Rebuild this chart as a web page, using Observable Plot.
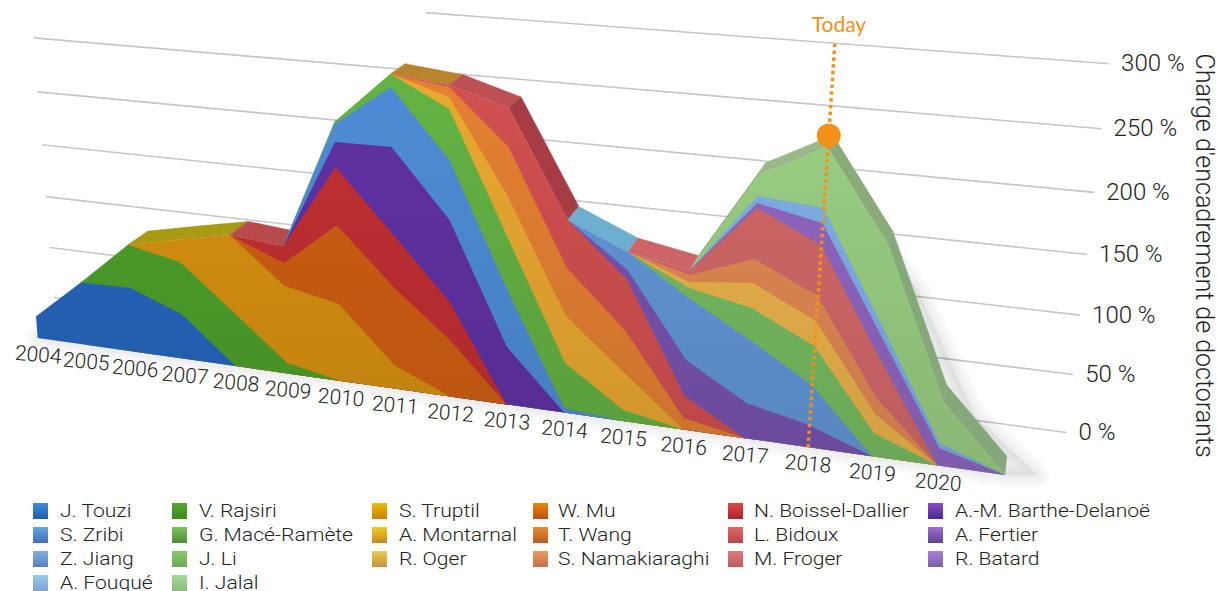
<!DOCTYPE html>
<html><head><meta charset="utf-8">
<script src="https://cdn.jsdelivr.net/npm/d3@7"></script>
<script src="https://cdn.jsdelivr.net/npm/@observablehq/plot@0.6"></script>
<style>
html,body{margin:0;padding:0;background:#fff;overflow:hidden}
#legend{position:relative;width:1217px;height:93px;font-family:Roboto,"Liberation Sans",sans-serif;font-weight:300;font-size:19px;color:#222}
#legend .s{position:absolute;width:15px;height:16px}
#legend .t{position:absolute;line-height:17px;white-space:nowrap;transform:scaleX(1.11);transform-origin:0 50%}
</style></head><body>
<div id="chart"></div><div id="legend"></div>
<script>
const years = [2004,2005,2006,2007,2008,2009,2010,2011,2012,2013,2014,2015,2016,2017,2018,2019,2020];
const names = ["J. Touzi","V. Rajsiri","S. Truptil","W. Mu","N. Boissel-Dallier","A.-M. Barthe-Delanoë","S. Zribi","G. Macé-Ramète","A. Montarnal","T. Wang","L. Bidoux","A. Fertier","Z. Jiang","J. Li","R. Oger","S. Namakiaraghi","M. Froger","R. Batard","A. Fouqué","I. Jalal"];
const colors = ["#2461B4","#4A9829","#CC8A10","#C45A12","#B82D30","#5B2F9B","#4A86CC","#60AA40","#DEA02E","#D97A30","#C84C4C","#7350A8","#5E90CE","#72B35C","#E0AC48","#D88350","#C96464","#8A62B8","#78A8DC","#93C67D"];
const swatchTop = ["#3F8FD8","#52A92C","#E8BC0C","#E8860F","#E04848","#8850C4","#62A8E0","#7CC65C","#E8CC28","#E88C38","#E46868","#A070D0","#80B0E0","#88C870","#E8CC50","#E89C60","#E47C7C","#A880D8","#98CCEC","#A8D898"];
const swatchBottom = ["#1F5AAE","#3F8A20","#C88008","#BC500C","#A82428","#4C2890","#3E70B8","#4E8C38","#C88820","#B85C28","#B84444","#5C4490","#5880BC","#6CA858","#C89040","#C47048","#B85C5C","#7860A8","#80A0D0","#88BC78"];

const jTouzi    = [16,46,46.6,32,0,0,0,0,0,0,0,0,0,0,0,0,0,0];
const vRajsiri  = [0,0,30.9,37.9,38.9,7.5,0,0,0,0,0,0,0,0,0,0,0,0];
const sTruptil  = [0,0,0,15.5,54.1,54.5,54.2,16.6,0,0,0,0,0,0,0,0,0,0];
const wMu       = [0,0,0,0,0,16,54,54,39.2,0,0,0,0,0,0,0,0,0];
const nBoissel  = [0,0,0,0,0,11.7,38.8,35.8,25.9,0,0,0,0,0,0,0,0,0];
const amBarthe  = [0,0,0,0,0,0,16.4,57.3,54.8,39.5,0,0,0,0,0,0,0,0];
const sZribi    = [0,0,0,0,0,0,11.8,38.5,39,38.4,3.1,0,0,0,0,0,0,0];
const gMace     = [0,0,0,0,0,0,1.3,8.2,32.5,34.4,30.8,7.5,0,0,0,0,0,0];
const aMontarnal= [0,0,0,0,0,0,0,0,7.6,26.6,31.5,24.9,0,0,0,0,0,0];
const tWang     = [0,0,0,0,0,0,0,0,6.3,31.9,31.7,28,7.7,0,0,0,0,0];
const lBidoux   = [0,0,0,0,0,0,0,0,1.2,24.5,31.1,33.4,14.8,0,0,0,0,0];
const aFertier  = [0,0,0,0,0,0,0,0,0,0,0,6.5,23.9,23.4,14.6,0,0,0];
const zJiang    = [0,0,0,0,0,0,0,0,0,0,0,11.5,40.4,41.2,26.2,0,0,0];
const jLi       = [0,0,0,0,0,0,0,0,0,0,0,0,6.5,20.6,25.1,15.2,0,0];
const rOger     = [0,0,0,0,0,0,0,0,0,0,0,0,3.8,15.9,15.9,12.3,0,0];
const sNamak    = [0,0,0,0,0,0,0,0,0,0,0,0,4.5,15.1,15.8,10.4,0,0];
const mFroger   = [0,0,0,0,0,0,0,0,0,0,0,0,3.2,31.7,31.7,25.5,0,0];
const rBatard   = [0,0,0,0,0,0,0,0,0,0,0,0,0,3.1,13.5,13.9,11.3,0];
const aFouque   = [0,0,0,0,0,0,0,0,0,0,0,0,0,4.3,9.1,6.3,3.3,0];
const iJalal    = [0,0,0,0,0,0,0,0,0,0,0,0,0,12.8,36.7,50,26.3,0];
const seriesValues = [jTouzi,vRajsiri,sTruptil,wMu,nBoissel,amBarthe,sZribi,gMace,aMontarnal,tWang,lBidoux,aFertier,zJiang,jLi,rOger,sNamak,mFroger,rBatard,aFouque,iJalal];
const faceColors = ["#2461B4","#4A9829","#A89A12","#A89A12","#B84A4C","#4F8FD0","#66B048","#B8842E","#BC5052","#A63D45","#6EAECF","#CC6468","#8FB27E","#9AB888","#8AAA7A","#85A87A","#85A87A"];
const gridPercents = [0,50,100,150,200,250,300];
const gridStart = [0,0,0,0,0,0,0.367];
const shadowWidths = [26,22,18,14,10,6,2];
const todayYear = 2018, todayTop = 250, todayDot = 195.7;

// Projection of the 3D camera
const c=-0.00966, h=0.00025, vpX=463, vpY=5650;
const w=(t,v)=>1+c*t-h*v;
const sx=(t,v)=>(37.7+47.19*t-vpX*h*v)/w(t,v);
const sy=(t,v)=>(338+3.47*t-vpY*h*v)/w(t,v);
const depthA=0.021, dX=1094, dY=-416;
const bx=(t,v)=>{const x=sx(t,v);return x+depthA*(dX-x)};
const by=(t,v)=>{const y=sy(t,v);return y+depthA*(dY-y)};
const wall=(x0,y0,hh)=>v=>[(x0-vpX*hh*v)/(1-hh*v),(y0-vpY*hh*v)/(1-hh*v)];
const wallL=wall(53,297,0.000185), wallR=wall(1066,432,0.00022);

// stack
const cum=seriesValues.map(()=>[]);
seriesValues.forEach((s,i)=>s.forEach((v,t)=>{cum[i][t]=v+(i?cum[i-1][t]:0)}));
const totals=cum[cum.length-1];

const fronts=[];
for(let i=names.length-1;i>=0;i--){
  const s=seriesValues[i];
  s.forEach((v,t)=>{ if(v>0||s[t-1]>0||s[t+1]>0) fronts.push({name:names[i],t,top:cum[i][t]}); });
}
const faces=[];
faceColors.forEach((col,i)=>{faces.push({seg:i,col,t:i,v:totals[i]},{seg:i,col,t:i+1,v:totals[i+1]})});
const floorPts=totals.map((v,t)=>({t,v:v*0.8}));
const grid=gridPercents.map((v,i)=>{const L=wallL(v),R=wallR(v);const u=gridStart[i];return {v,x1:L[0]+u*(R[0]-L[0]),y1:L[1]+u*(R[1]-L[1]),x2:R[0],y2:R[1]}});

const font='Roboto,"Liberation Sans",sans-serif';
const plot=Plot.plot({
  width:1217,height:498,margin:0,
  x:{domain:[0,1217],range:[0,1217],axis:null},
  y:{domain:[0,498],range:[0,498],axis:null},
  color:{type:"ordinal",domain:names,range:names.map((_,i)=>`url(#band${i})`)},
  style:{background:"transparent",fontFamily:font},
  marks:[
    Plot.link(grid,{x1:"x1",y1:"y1",x2:"x2",y2:"y2",stroke:"#c6c6c6",strokeWidth:1.6}),
    ...shadowWidths.map(sw=>Plot.area(floorPts,{x1:d=>sx(d.t,0),y1:d=>sy(d.t,0),x2:d=>sx(d.t,d.v)+32,y2:d=>sy(d.t,d.v),fill:"#000",fillOpacity:0.006,stroke:"#000",strokeOpacity:0.011,strokeWidth:sw,strokeLinejoin:"round"})),
    Plot.area(faces,{x1:d=>sx(d.t,d.v),y1:d=>sy(d.t,d.v),x2:d=>bx(d.t,d.v),y2:d=>by(d.t,d.v),z:"seg",fill:"col",stroke:"col",strokeWidth:0.4}),
    Plot.area(fronts,{x1:d=>sx(d.t,0),y1:d=>sy(d.t,0),x2:d=>sx(d.t,d.top),y2:d=>sy(d.t,d.top),z:"name",fill:"name"}),
    Plot.line([0,todayTop],{x:v=>sx(todayYear-years[0],v),y:v=>sy(todayYear-years[0],v),stroke:"#F39019",strokeWidth:3.5,strokeLinecap:"butt",strokeDasharray:"3.4,3.4"}),
    Plot.dot([todayDot],{x:v=>sx(todayYear-years[0],v),y:v=>sy(todayYear-years[0],v),r:12,fill:"#F39019"}),
    Plot.text(["Today"],{x:()=>sx(todayYear-years[0],todayTop)+4,y:()=>sy(todayYear-years[0],todayTop)-17,text:d=>d,fill:"#F39019",fontSize:21,fontFamily:"Lato"}),
    Plot.text(years,{x:d=>sx(d-years[0],0),y:d=>sy(d-years[0],0)+16.5,text:d=>String(d),rotate:5,fontSize:21,fontWeight:300,fill:"#222",fontFamily:font}),
    Plot.text(gridPercents,{x:v=>wallR(v)[0]+12,y:v=>wallR(v)[1],text:v=>v+" %",textAnchor:"start",fontSize:24,fontWeight:300,fill:"#222",fontFamily:font}),
    Plot.text(["Charge d'encadrement de doctorants"],{x:()=>1203,y:()=>255,text:d=>d,rotate:90,fontSize:25,fontWeight:300,fill:"#222",fontFamily:font})
  ]
});
document.getElementById("chart").appendChild(plot);

// vertical shading of the bands
const defs=d3.select(plot).insert("defs",":first-child");
colors.forEach((col,i)=>{
  const g=defs.append("linearGradient").attr("id",`band${i}`).attr("gradientUnits","userSpaceOnUse")
    .attr("x1",0).attr("x2",0).attr("y1",60).attr("y2",470);
  g.append("stop").attr("offset",0).attr("stop-color",d3.rgb(col).brighter(0.15).formatHex());
  g.append("stop").attr("offset",1).attr("stop-color",d3.rgb(col).darker(0.2).formatHex());
});

// Legend: filled row by row, bottom of the stack first
const colX=[[33,60],[172,199],[372,399],[533,558],[728,754],[928,955]];
const lg=document.getElementById("legend");
names.forEach((n,i)=>{
  const col=i%6,row=Math.floor(i/6),top=5+row*24;
  const s=document.createElement("div");s.className="s";
  s.style.cssText=`left:${colX[col][0]}px;top:${top}px;background:linear-gradient(${swatchTop[i]},${swatchBottom[i]})`;
  const t=document.createElement("div");t.className="t";t.textContent=n;
  t.style.cssText=`left:${colX[col][1]}px;top:${top-1}px`;
  lg.append(s,t);
});
</script></body></html>
